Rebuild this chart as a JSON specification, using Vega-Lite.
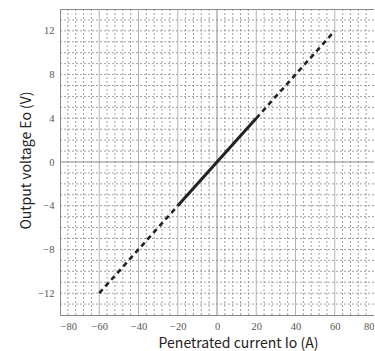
{
  "$schema": "https://vega.github.io/schema/vega-lite/v6.json",
  "autosize": {"type": "none"},
  "padding": {"left": 60, "top": 9, "right": 0, "bottom": 36},
  "width": 314,
  "height": 306,
  "background": "white",
  "config": {
    "view": {"stroke": "#888", "strokeWidth": 1},
    "axis": {
      "labelOverlap": false,
      "labelFont": "Liberation Serif", "labelFontSize": 10.5, "labelColor": "#555",
      "titleFont": "Noto Sans CJK JP", "titleFontSize": 14, "titleFontWeight": "normal",
      "titleColor": "#222", "ticks": false, "grid": false, "domainColor": "#888", "labelPadding": 6
    }
  },
  "datasets": {
    "solid": [{"x": -20, "y": -4}, {"x": 20, "y": 4}],
    "dashed": [
      {"x": -60, "y": -12, "part": "low"}, {"x": -20, "y": -4, "part": "low"},
      {"x": 20, "y": 4, "part": "high"}, {"x": 60, "y": 12, "part": "high"}
    ],
    "vminor": [{"x": -76}, {"x": -72}, {"x": -68}, {"x": -64}, {"x": -56}, {"x": -52}, {"x": -48}, {"x": -44}, {"x": -36}, {"x": -32}, {"x": -28}, {"x": -24}, {"x": -16}, {"x": -12}, {"x": -8}, {"x": -4}, {"x": 4}, {"x": 8}, {"x": 12}, {"x": 16}, {"x": 24}, {"x": 28}, {"x": 32}, {"x": 36}, {"x": 44}, {"x": 48}, {"x": 52}, {"x": 56}, {"x": 64}, {"x": 68}, {"x": 72}, {"x": 76}],
    "hminor": [{"y": -13}, {"y": -12}, {"y": -11}, {"y": -10}, {"y": -9}, {"y": -8}, {"y": -7}, {"y": -6}, {"y": -5}, {"y": -4}, {"y": -3}, {"y": -2}, {"y": -1}, {"y": 1}, {"y": 2}, {"y": 3}, {"y": 4}, {"y": 5}, {"y": 6}, {"y": 7}, {"y": 8}, {"y": 9}, {"y": 10}, {"y": 11}, {"y": 12}, {"y": 13}],
    "vmajors": [{"x": -60}, {"x": -40}, {"x": -20}, {"x": 20}, {"x": 40}, {"x": 60}],
    "vzero": [{"x": 0}],
    "hzero": [{"y": 0}]
  },
  "layer": [
    {
      "data": {"name": "vminor"},
      "mark": {"type": "rule", "color": "#888", "strokeWidth": 0.8, "strokeDash": [2, 2]},
      "encoding": {"x": {"field": "x", "type": "quantitative",
        "scale": {"domain": [-80, 80], "nice": false, "zero": false},
        "axis": {"values": [-80, -60, -40, -20, 0, 20, 40, 60, 80], "labelOverlap": false, "labelFont": "Liberation Serif", "title": "Penetrated current Io (A)", "titleX": 178, "titleY": 32, "titleBaseline": "alphabetic"}}}
    },
    {
      "data": {"name": "hminor"},
      "mark": {"type": "rule", "color": "#888", "strokeWidth": 0.8, "strokeDash": [2, 2]},
      "encoding": {"y": {"field": "y", "type": "quantitative",
        "scale": {"domain": [-14, 14], "nice": false, "zero": false},
        "axis": {"values": [-12, -8, -4, 0, 4, 8, 12], "labelOverlap": false, "labelFont": "Liberation Serif", "title": "Output voltage Eo (V)", "titleX": -30, "titleY": 151, "titleAngle": -90, "titleAlign": "center", "titleBaseline": "alphabetic"}}}
    },
    {
      "data": {"name": "vmajors"},
      "mark": {"type": "rule", "color": "#aaa", "strokeWidth": 0.9},
      "encoding": {"x": {"field": "x", "type": "quantitative",
        "axis": {"values": [-80, -60, -40, -20, 0, 20, 40, 60, 80], "labelOverlap": false, "labelFont": "Liberation Serif", "title": "Penetrated current Io (A)", "titleX": 178, "titleY": 32, "titleBaseline": "alphabetic"}}}
    },
    {
      "data": {"name": "vzero"},
      "mark": {"type": "rule", "color": "#888", "strokeWidth": 1},
      "encoding": {"x": {"field": "x", "type": "quantitative",
        "axis": {"values": [-80, -60, -40, -20, 0, 20, 40, 60, 80], "labelOverlap": false, "labelFont": "Liberation Serif", "title": "Penetrated current Io (A)", "titleX": 178, "titleY": 32, "titleBaseline": "alphabetic"}}}
    },
    {
      "data": {"name": "hzero"},
      "mark": {"type": "rule", "color": "#888", "strokeWidth": 1},
      "encoding": {"y": {"field": "y", "type": "quantitative",
        "axis": {"values": [-12, -8, -4, 0, 4, 8, 12], "labelOverlap": false, "labelFont": "Liberation Serif", "title": "Output voltage Eo (V)", "titleX": -30, "titleY": 151, "titleAngle": -90, "titleAlign": "center", "titleBaseline": "alphabetic"}}}
    },
    {
      "data": {"name": "dashed"},
      "mark": {"type": "line", "color": "#222", "strokeWidth": 2.6, "strokeDash": [5, 4]},
      "encoding": {
        "x": {"field": "x", "type": "quantitative",
          "axis": {"values": [-80, -60, -40, -20, 0, 20, 40, 60, 80], "labelOverlap": false, "labelFont": "Liberation Serif", "title": "Penetrated current Io (A)", "titleX": 178, "titleY": 32, "titleBaseline": "alphabetic"}},
        "y": {"field": "y", "type": "quantitative",
          "axis": {"values": [-12, -8, -4, 0, 4, 8, 12], "labelOverlap": false, "labelFont": "Liberation Serif", "title": "Output voltage Eo (V)", "titleX": -30, "titleY": 151, "titleAngle": -90, "titleAlign": "center", "titleBaseline": "alphabetic"}},
        "detail": {"field": "part"}
      }
    },
    {
      "data": {"name": "solid"},
      "mark": {"type": "line", "color": "#222", "strokeWidth": 3},
      "encoding": {
        "x": {"field": "x", "type": "quantitative",
          "axis": {"values": [-80, -60, -40, -20, 0, 20, 40, 60, 80], "labelOverlap": false, "labelFont": "Liberation Serif", "title": "Penetrated current Io (A)", "titleX": 178, "titleY": 32, "titleBaseline": "alphabetic"}},
        "y": {"field": "y", "type": "quantitative",
          "axis": {"values": [-12, -8, -4, 0, 4, 8, 12], "labelOverlap": false, "labelFont": "Liberation Serif", "title": "Output voltage Eo (V)", "titleX": -30, "titleY": 151, "titleAngle": -90, "titleAlign": "center", "titleBaseline": "alphabetic"}}
      }
    }
  ]
}
